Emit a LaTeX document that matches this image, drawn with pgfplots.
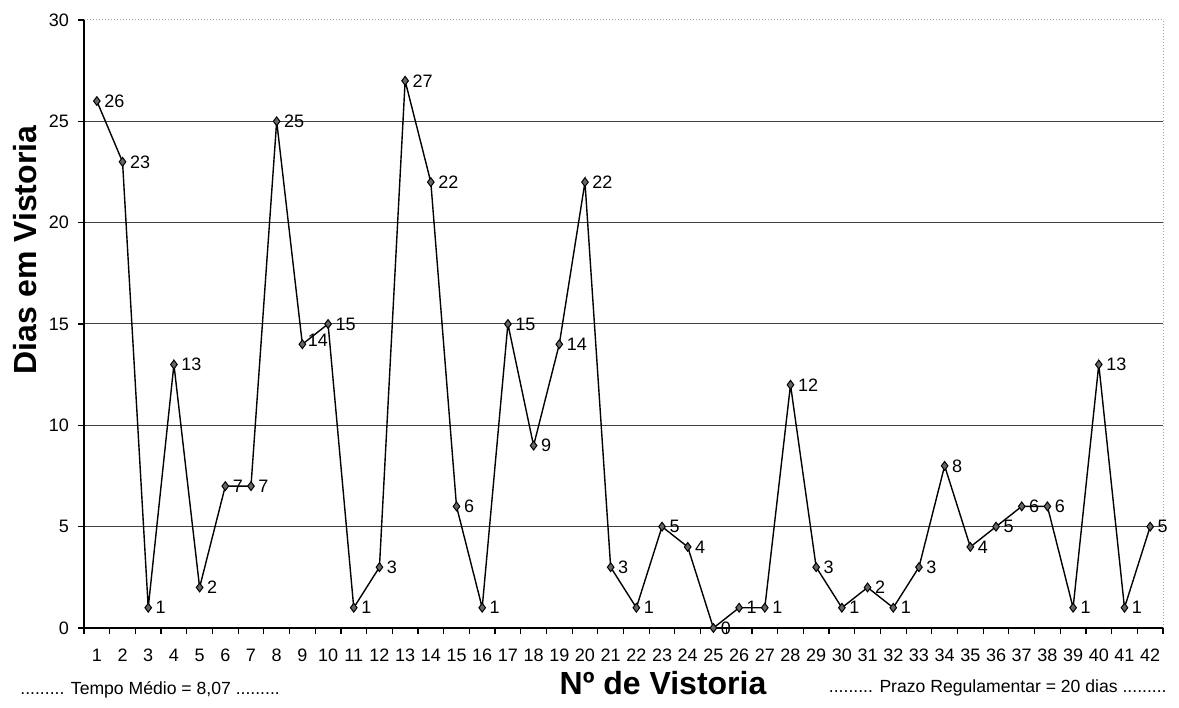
\documentclass[border=0pt]{standalone}
\usepackage{fontspec}
\setmainfont{Liberation Sans}
\usepackage{pgfplots}
\pgfplotsset{compat=1.18}
\usetikzlibrary{calc}

% dias em vistoria, por vistoria 1..42
\pgfplotstableread{
n  dias
1  26
2  23
3  1
4  13
5  2
6  7
7  7
8  25
9  14
10 15
11 1
12 3
13 27
14 22
15 6
16 1
17 15
18 9
19 14
20 22
21 3
22 1
23 5
24 4
25 0
26 1
27 1
28 12
29 3
30 1
31 2
32 1
33 3
34 8
35 4
36 5
37 6
38 6
39 1
40 13
41 1
42 5
}\vistorias

\begin{document}
\begin{tikzpicture}
\begin{axis}[
  scale only axis, width=539.5pt, height=304pt,
  xmin=0.5, xmax=42.5, ymin=0, ymax=30,
  /pgf/number format/assume math mode=true,
  axis line style={draw=none},
  xtick={1,...,42},
  minor xtick={0.5,1.5,...,42.5},
  major x tick style={draw=none},
  minor x tick style={black, line width=0.6pt},
  minor tick length=3pt,
  ytick={0,5,...,25},
  extra y ticks={30},
  extra y tick style={grid=none},
  major tick length=3pt,
  ytick style={black, line width=0.6pt},
  tick align=outside,
  xtick pos=bottom, ytick pos=left,
  ymajorgrids,
  grid style={black!75, line width=0.5pt},
  xticklabel style={font=\fontsize{9}{10}\selectfont, yshift=-4pt},
  yticklabel style={font=\fontsize{9}{10}\selectfont, xshift=-1pt},
  clip=false,
]
\addplot[black, line width=0.7pt, mark=diamond*,
  mark size=2.2pt, mark options={fill=black!60, draw=black, line width=0.5pt},
  nodes near coords,
  every node near coord/.append style={anchor=west, xshift=1.5pt,
    font=\fontsize{9}{10}\selectfont, inner sep=2pt},
  coordinate style/.condition={x==9}{anchor=north west, xshift=-1pt, yshift=2pt}]
  table[x=n, y=dias] {\vistorias};
% borda da area
\draw[black, line width=0.7pt] (rel axis cs:0,1) -- (rel axis cs:0,0) -- (rel axis cs:1,0);
\draw[gray!70, densely dotted, line width=0.5pt] (rel axis cs:0,1) -- (rel axis cs:1,1) -- (rel axis cs:1,0);
\coordinate (bl) at (rel axis cs:0,0);
\coordinate (tr) at (rel axis cs:1,1);
\end{axis}
% titulos
\node[rotate=90, font=\fontsize{16}{18}\selectfont\bfseries] at ($(bl)+(-29.5pt,189pt)$) {Dias em Vistoria};
\node[font=\fontsize{16}{18}\selectfont\bfseries] at ($(bl)+(289.5pt,-27.5pt)$) {Nº de Vistoria};
\node[anchor=west, font=\fontsize{8.8}{10}\selectfont, inner sep=0pt] at ($(bl)+(-32pt,-31pt)$) {......... Tempo Médio = 8,07 .........};
\node[anchor=east, font=\fontsize{8.8}{10}\selectfont, inner sep=0pt] at ($(tr)+(2pt,-334pt)$) {......... Prazo Regulamentar = 20 dias .........};
\pgfresetboundingbox
\path[use as bounding box] ($(bl)+(-42pt,-40pt)$) rectangle ($(tr)+(8pt,10pt)$);
\end{tikzpicture}
\end{document}
